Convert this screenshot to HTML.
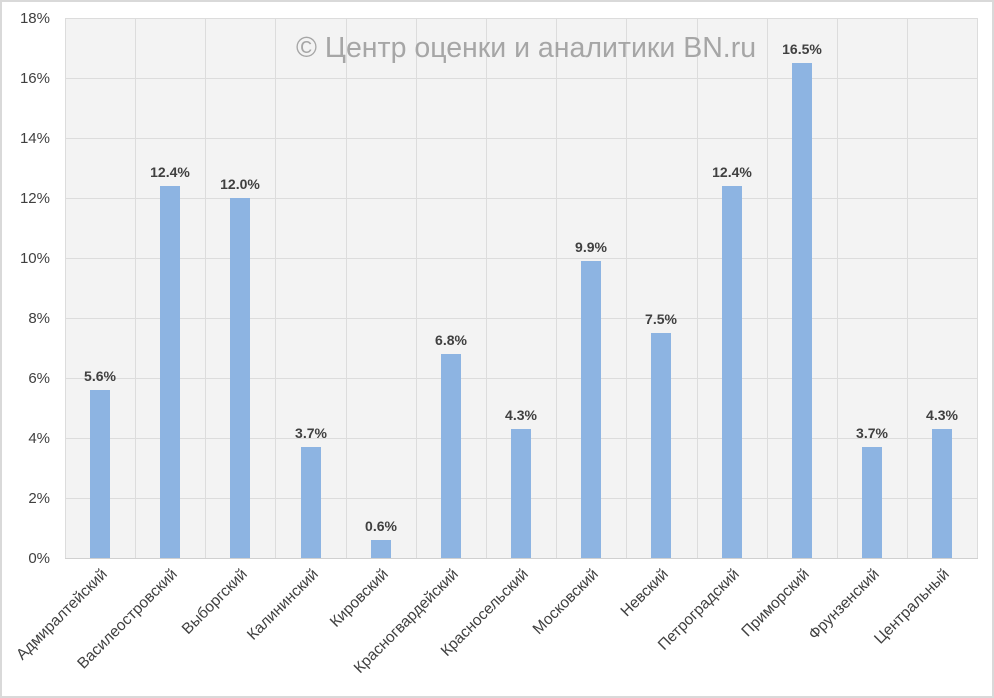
<!DOCTYPE html>
<html><head><meta charset="utf-8"><style>
html,body{margin:0;padding:0;background:#fff;}
svg{display:block;font-family:"Liberation Sans","DejaVu Sans",sans-serif;}
</style></head><body>
<svg width="994" height="698" viewBox="0 0 994 698" xmlns="http://www.w3.org/2000/svg">
<rect x="1" y="1" width="992" height="696" fill="#fff" stroke="#d9d9d9" stroke-width="2"/>
<rect x="65" y="18" width="913" height="540" fill="#f3f3f3"/>
<g stroke="#dcdcdc" stroke-width="1">
<line x1="65" x2="978" y1="18.5" y2="18.5"/><line x1="65" x2="978" y1="78.5" y2="78.5"/><line x1="65" x2="978" y1="138.5" y2="138.5"/><line x1="65" x2="978" y1="198.5" y2="198.5"/><line x1="65" x2="978" y1="258.5" y2="258.5"/><line x1="65" x2="978" y1="318.5" y2="318.5"/><line x1="65" x2="978" y1="378.5" y2="378.5"/><line x1="65" x2="978" y1="438.5" y2="438.5"/><line x1="65" x2="978" y1="498.5" y2="498.5"/>
<line x1="65.5" x2="65.5" y1="18" y2="558"/><line x1="135.5" x2="135.5" y1="18" y2="558"/><line x1="205.5" x2="205.5" y1="18" y2="558"/><line x1="275.5" x2="275.5" y1="18" y2="558"/><line x1="346.5" x2="346.5" y1="18" y2="558"/><line x1="416.5" x2="416.5" y1="18" y2="558"/><line x1="486.5" x2="486.5" y1="18" y2="558"/><line x1="556.5" x2="556.5" y1="18" y2="558"/><line x1="626.5" x2="626.5" y1="18" y2="558"/><line x1="697.5" x2="697.5" y1="18" y2="558"/><line x1="767.5" x2="767.5" y1="18" y2="558"/><line x1="837.5" x2="837.5" y1="18" y2="558"/><line x1="907.5" x2="907.5" y1="18" y2="558"/><line x1="977.5" x2="977.5" y1="18" y2="558"/>
</g>
<line x1="65" x2="978" y1="558.5" y2="558.5" stroke="#d0d0d0"/>
<text x="526" y="57" font-size="28.5" fill="#a6a6a6" text-anchor="middle">© Центр оценки и аналитики BN.ru</text>
<g font-size="15" fill="#404040" text-anchor="end">
<text x="50" y="23">18%</text><text x="50" y="83">16%</text><text x="50" y="143">14%</text><text x="50" y="203">12%</text><text x="50" y="263">10%</text><text x="50" y="323">8%</text><text x="50" y="383">6%</text><text x="50" y="443">4%</text><text x="50" y="503">2%</text><text x="50" y="563">0%</text>
</g>
<g fill="#8db4e2">
<rect x="90" y="390" width="20" height="168"/>
<rect x="160" y="186" width="20" height="372"/>
<rect x="230" y="198" width="20" height="360"/>
<rect x="301" y="447" width="20" height="111"/>
<rect x="371" y="540" width="20" height="18"/>
<rect x="441" y="354" width="20" height="204"/>
<rect x="511" y="429" width="20" height="129"/>
<rect x="581" y="261" width="20" height="297"/>
<rect x="651" y="333" width="20" height="225"/>
<rect x="722" y="186" width="20" height="372"/>
<rect x="792" y="63" width="20" height="495"/>
<rect x="862" y="447" width="20" height="111"/>
<rect x="932" y="429" width="20" height="129"/>
</g>
<g font-size="14" font-weight="bold" fill="#404040" text-anchor="middle">
<text x="100" y="381">5.6%</text>
<text x="170" y="177">12.4%</text>
<text x="240" y="189">12.0%</text>
<text x="311" y="438">3.7%</text>
<text x="381" y="531">0.6%</text>
<text x="451" y="345">6.8%</text>
<text x="521" y="420">4.3%</text>
<text x="591" y="252">9.9%</text>
<text x="661" y="324">7.5%</text>
<text x="732" y="177">12.4%</text>
<text x="802" y="54">16.5%</text>
<text x="872" y="438">3.7%</text>
<text x="942" y="420">4.3%</text>
</g>
<g font-size="15.5" fill="#404040" text-anchor="end">
<text transform="translate(108,575) rotate(-45)">Адмиралтейский</text>
<text transform="translate(178,575) rotate(-45)">Василеостровский</text>
<text transform="translate(248,575) rotate(-45)">Выборгский</text>
<text transform="translate(319,575) rotate(-45)">Калининский</text>
<text transform="translate(389,575) rotate(-45)">Кировский</text>
<text transform="translate(459,575) rotate(-45)">Красногвардейский</text>
<text transform="translate(529,575) rotate(-45)">Красносельский</text>
<text transform="translate(599,575) rotate(-45)">Московский</text>
<text transform="translate(669,575) rotate(-45)">Невский</text>
<text transform="translate(740,575) rotate(-45)">Петроградский</text>
<text transform="translate(810,575) rotate(-45)">Приморский</text>
<text transform="translate(880,575) rotate(-45)">Фрунзенский</text>
<text transform="translate(950,575) rotate(-45)">Центральный</text>
</g>
</svg>
</body></html>
